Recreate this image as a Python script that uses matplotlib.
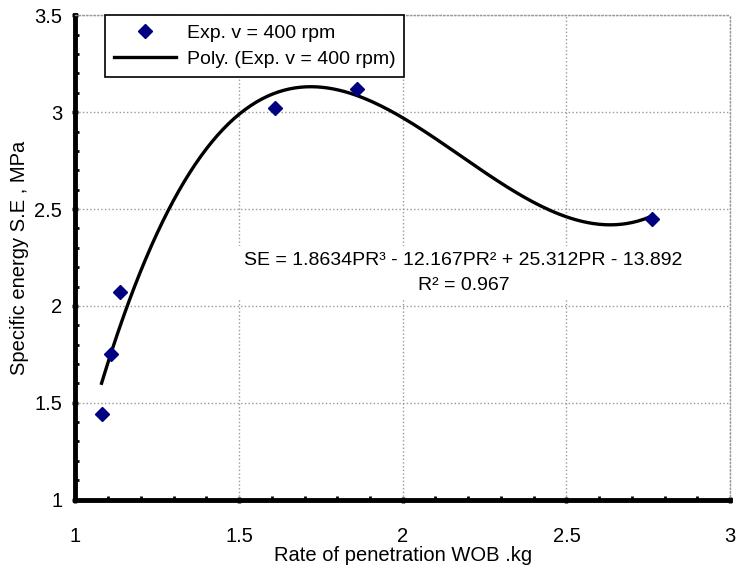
import numpy as np
import matplotlib.pyplot as plt

plt.rcParams['font.family'] = ['Liberation Sans', 'DejaVu Sans']

# measured points (rate of penetration vs specific energy)
pr = [1.08, 1.11, 1.135, 1.61, 1.86, 2.76]
se = [1.44, 1.75, 2.07, 3.02, 3.12, 2.45]

# cubic trendline coefficients as printed on the chart
coef = [1.8634, -12.167, 25.312, -13.892]
r2 = 0.967

fig = plt.figure(figsize=(7.39, 5.69), dpi=100)
ax = fig.add_axes([0.102, 0.122, 0.886, 0.851])

xs = np.linspace(min(pr), max(pr), 200)
ax.plot(xs, np.polyval(coef, xs), color='black', lw=2.4,
        label='Poly. (Exp. v = 400 rpm)', zorder=3)
ax.plot(pr, se, linestyle='none', marker='D', color='#000080',
        markersize=7.5, label='Exp. v = 400 rpm', zorder=4)

ax.set_xlim(1, 3)
ax.set_ylim(1, 3.5)
ax.set_xticks(np.arange(1, 3.01, 0.5))
ax.set_yticks(np.arange(1, 3.51, 0.5))
ax.set_xticklabels(['1', '1.5', '2', '2.5', '3'])
ax.set_yticklabels(['1', '1.5', '2', '2.5', '3', '3.5'])
ax.set_xticks(np.arange(1, 3.01, 0.1), minor=True)
ax.set_yticks(np.arange(1, 3.51, 0.1), minor=True)
ax.tick_params(which='major', direction='inout', length=5, width=2.5,
               labelsize=14.5)
ax.tick_params(axis='x', which='major', pad=17)
ax.tick_params(axis='y', which='major', pad=7)
ax.tick_params(which='minor', direction='in', length=3, width=2)

ax.grid(True, which='major', color='#999999', linestyle=':', linewidth=1)
ax.set_axisbelow(True)

for s in ['left', 'bottom']:
    ax.spines[s].set_linewidth(3.5)
    ax.spines[s].set_color('black')
for s in ['top', 'right']:
    ax.spines[s].set_linewidth(1)
    ax.spines[s].set_color('#999999')
    ax.spines[s].set_linestyle(':')

ax.set_xlabel('Rate of penetration WOB .kg', fontsize=14.5, labelpad=0)
ax.set_ylabel('Specific energy S.E , MPa', fontsize=14.5, labelpad=4)

handles, labels = ax.get_legend_handles_labels()
leg = ax.legend(handles[::-1], labels[::-1], loc='upper left',
                bbox_to_anchor=(0.045, 1.0), fontsize=14, fancybox=False,
                framealpha=1, edgecolor='black', borderpad=0.45,
                handlelength=3.2, labelspacing=0.45, borderaxespad=0,
                handletextpad=0.55)
leg.get_frame().set_linewidth(1.2)

eq = ('SE = %.4fPR³ - %.3fPR² + %.3fPR - %.3f\nR² = %.3f'
      % (coef[0], -coef[1], coef[2], -coef[3], r2))
ax.text(2.185, 2.17, eq, ha='center', va='center', fontsize=14,
        linespacing=1.65,
        bbox=dict(facecolor='white', edgecolor='none', pad=4), zorder=2)

fig.savefig('out.png', dpi=100)
